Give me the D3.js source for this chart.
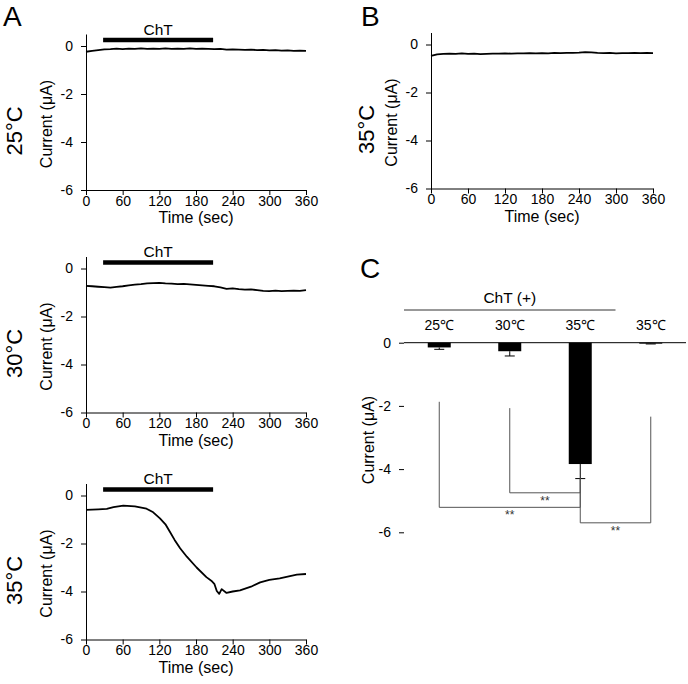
<!DOCTYPE html>
<html lang="en">

<head>
    <meta charset="utf-8">
    <title>ChT current</title>
    <script type="text/javascript" src="https://d3js.org/d3.v7.min.js"></script>
    <style>
        body { margin: 0; background: #fff; }
        svg text { font-family: "Liberation Sans", Arial, sans-serif; fill: #000; }
        .axis path, .axis line { stroke: #000; }
    </style>
</head>

<body>
    <div id="container"></div>
    <script type="text/javascript">
        var w = 688;
        var h = 684;

        // time grid of the recordings (sec)
        var timeSec = [0, 10, 20, 30, 40, 50, 60, 70, 80, 90, 100, 110, 120, 130, 140, 150, 160, 170, 180,
            190, 200, 210, 220, 230, 240, 250, 260, 270, 280, 290, 300, 310, 320, 330, 340, 350, 360];

        // current traces (uA)
        var trace25 = [-0.24, -0.2, -0.17, -0.14, -0.13, -0.11, -0.13, -0.11, -0.12, -0.1, -0.12, -0.11, -0.12,
            -0.1, -0.12, -0.11, -0.12, -0.1, -0.12, -0.11, -0.12, -0.13, -0.12, -0.15, -0.14, -0.15, -0.16,
            -0.15, -0.17, -0.16, -0.18, -0.17, -0.19, -0.18, -0.2, -0.19, -0.2];
        var trace30 = [-0.72, -0.74, -0.76, -0.78, -0.8, -0.77, -0.74, -0.7, -0.67, -0.65, -0.62, -0.61, -0.6,
            -0.62, -0.63, -0.65, -0.64, -0.66, -0.68, -0.7, -0.72, -0.74, -0.79, -0.85, -0.83, -0.86, -0.88,
            -0.87, -0.9, -0.93, -0.94, -0.92, -0.94, -0.93, -0.92, -0.93, -0.9];
        var traceB35 = [-0.47, -0.41, -0.39, -0.38, -0.39, -0.37, -0.39, -0.38, -0.4, -0.39, -0.38, -0.38, -0.37,
            -0.38, -0.37, -0.37, -0.36, -0.37, -0.36, -0.37, -0.35, -0.36, -0.35, -0.35, -0.34, -0.32, -0.33,
            -0.35, -0.36, -0.35, -0.37, -0.36, -0.36, -0.35, -0.36, -0.35, -0.36];

        // 35 C trace has its own sampling around the fast drop
        var time35 = [0, 10, 20, 34, 45, 61, 80, 99, 110, 121, 130, 137, 145, 154, 165, 181, 197, 205, 210,
            214, 218, 222, 230, 240, 252, 270, 285, 300, 317, 330, 345, 360];
        var trace35 = [-0.6, -0.59, -0.58, -0.56, -0.48, -0.42, -0.45, -0.55, -0.7, -0.95, -1.2, -1.5, -1.85,
            -2.2, -2.55, -3.0, -3.4, -3.55, -3.68, -3.98, -4.1, -3.9, -4.06, -4.0, -3.95, -3.8, -3.62, -3.52,
            -3.45, -3.38, -3.3, -3.27];

        var chtWindow = [28, 208];
        var xTicks = [0, 60, 120, 180, 240, 300, 360];
        var yTicks = [0, -2, -4, -6];

        // panel C
        var barCats = ["25℃", "30℃", "35℃", "35℃ "];
        var barMeans = [-0.15, -0.27, -3.84, -0.03];
        var barErr = [0.06, 0.15, 0.46, 0.01];
        // [left cat, right cat, left leg top, base level, right leg top]
        var sigBrackets = [
            [0, 2, -1.87, -5.21, -4.3],
            [1, 2, -2.07, -4.75, -4.3],
            [2, 3, -4.3, -5.7, -2.34]
        ];

        const svg = d3.select("div#container")
            .append("svg")
            .attr("width", w)
            .attr("height", h)
            .style("background-color", "#fff");

        var fmt = d => String(d);

        function tracePanel(x0, y0, width, times, values, tempLabel, labelX, showChT) {
            var x = d3.scaleLinear().domain([0, 360]).range([x0, x0 + width]);
            var y = d3.scaleLinear().domain([-6, 0.5]).range([y0 + 144, y0 - 12]);

            svg.append("g")
                .attr("class", "axis")
                .attr("transform", "translate(0," + (y0 + 144) + ")")
                .call(d3.axisBottom(x).tickValues(xTicks).tickFormat(fmt).tickSize(5).tickPadding(1).tickSizeOuter(0))
                .call(g => g.selectAll("text").style("font-size", "14px"));

            svg.append("g")
                .attr("class", "axis")
                .attr("transform", "translate(" + x0 + ",0)")
                .call(d3.axisLeft(y).tickValues(yTicks).tickFormat(fmt).tickSize(5).tickPadding(8).tickSizeOuter(0))
                .call(g => g.selectAll("text").style("font-size", "14px"));

            svg.append("text")
                .attr("x", x0 + width / 2)
                .attr("y", y0 + 177)
                .attr("text-anchor", "middle")
                .style("font-size", "16px")
                .text("Time (sec)");

            svg.append("text")
                .attr("transform", "translate(" + (x0 - 40) + "," + (y0 + 78) + ") rotate(-90)")
                .attr("text-anchor", "middle")
                .attr("dy", "0.35em")
                .style("font-size", "16px")
                .text("Current (μA)");

            svg.append("text")
                .attr("transform", "translate(" + labelX + "," + (y0 + 85) + ") rotate(-90)")
                .attr("text-anchor", "middle")
                .attr("dy", "0.35em")
                .style("font-size", "22px")
                .text(tempLabel);

            if (showChT) {
                svg.append("line")
                    .attr("x1", x(chtWindow[0]))
                    .attr("x2", x(chtWindow[1]))
                    .attr("y1", y(0.25))
                    .attr("y2", y(0.25))
                    .attr("stroke", "#000")
                    .attr("stroke-width", 4.5);
                svg.append("text")
                    .attr("x", x((chtWindow[0] + chtWindow[1]) / 2))
                    .attr("y", y(0.25) - 5.5)
                    .attr("text-anchor", "middle")
                    .style("font-size", "15.5px")
                    .text("ChT");
            }

            var line = d3.line()
                .x((d, i) => x(times[i]))
                .y(d => y(d));

            svg.append("path")
                .datum(values)
                .attr("d", line)
                .attr("fill", "none")
                .attr("stroke", "#000")
                .attr("stroke-width", 1.8)
                .attr("stroke-linejoin", "round");
        }

        tracePanel(86, 46, 220, timeSec, trace25, "25°C", 14, true);
        tracePanel(86, 268.5, 220, timeSec, trace30, "30°C", 14, true);
        tracePanel(86, 495.5, 220, time35, trace35, "35°C", 14, true);
        tracePanel(431, 44.5, 222, timeSec, traceB35, "35°C", 366, false);

        // panel letters
        svg.append("text").attr("x", 3).attr("y", 26).style("font-size", "28px").text("A");
        svg.append("text").attr("x", 361).attr("y", 26).style("font-size", "28px").text("B");
        svg.append("text").attr("x", 360).attr("y", 278).style("font-size", "28px").text("C");

        // ---- panel C: bar chart ----
        var xc = d3.scaleBand().domain(barCats).range([404, 686]);
        var yc = d3.scaleLinear().domain([-6, 0]).range([532.3, 342.7]);
        var barW = 23;

        svg.append("g")
            .attr("class", "axis")
            .attr("transform", "translate(404,0)")
            .call(d3.axisLeft(yc).tickValues(yTicks).tickFormat(fmt).tickSize(5).tickPadding(8))
            .call(g => g.select(".domain").remove())
            .call(g => g.selectAll("text").style("font-size", "14px"));

        svg.append("text")
            .attr("transform", "translate(368,440) rotate(-90)")
            .attr("text-anchor", "middle")
            .attr("dy", "0.35em")
            .style("font-size", "16px")
            .text("Current (μA)");

        svg.selectAll("rect.bar")
            .data(barMeans)
            .enter()
            .append("rect")
            .attr("class", "bar")
            .attr("x", (d, i) => xc(barCats[i]) + xc.bandwidth() / 2 - barW / 2)
            .attr("y", yc(0))
            .attr("width", barW)
            .attr("height", d => yc(d) - yc(0))
            .attr("fill", "#000");

        // error bars (downward)
        barMeans.forEach(function (m, i) {
            var cx = xc(barCats[i]) + xc.bandwidth() / 2;
            svg.append("line")
                .attr("x1", cx).attr("x2", cx)
                .attr("y1", yc(m)).attr("y2", yc(m - barErr[i]))
                .attr("stroke", "#000").attr("stroke-width", 1);
            svg.append("line")
                .attr("x1", cx - 5).attr("x2", cx + 5)
                .attr("y1", yc(m - barErr[i])).attr("y2", yc(m - barErr[i]))
                .attr("stroke", "#000").attr("stroke-width", 1);
        });

        // zero line
        svg.append("line")
            .attr("x1", 404).attr("x2", 686)
            .attr("y1", yc(0)).attr("y2", yc(0))
            .attr("stroke", "#000").attr("stroke-width", 1);

        // category labels
        svg.selectAll("text.cat")
            .data(barCats)
            .enter()
            .append("text")
            .attr("class", "cat")
            .attr("x", d => xc(d) + xc.bandwidth() / 2)
            .attr("y", 330)
            .attr("text-anchor", "middle")
            .style("font-size", "14px")
            .text(d => d.trim());

        // ChT (+) group label
        svg.append("line")
            .attr("x1", xc(barCats[0])).attr("x2", xc(barCats[2]) + xc.bandwidth())
            .attr("y1", 310).attr("y2", 310)
            .attr("stroke", "#333").attr("stroke-width", 1);
        svg.append("text")
            .attr("x", (xc(barCats[0]) + xc(barCats[2]) + xc.bandwidth()) / 2)
            .attr("y", 303)
            .attr("text-anchor", "middle")
            .style("font-size", "15.5px")
            .text("ChT (+)");

        // significance brackets
        sigBrackets.forEach(function (b) {
            var xa = xc(barCats[b[0]]) + xc.bandwidth() / 2;
            var xb = xc(barCats[b[1]]) + xc.bandwidth() / 2;
            svg.append("path")
                .attr("d", "M" + xa + "," + yc(b[2]) + "V" + yc(b[3]) + "H" + xb + "V" + yc(b[4]))
                .attr("fill", "none")
                .attr("stroke", "#555")
                .attr("stroke-width", 1);
            svg.append("text")
                .attr("x", (xa + xb) / 2)
                .attr("y", yc(b[3]) + 12)
                .attr("text-anchor", "middle")
                .style("font-size", "12px")
                .style("fill", "#333")
                .text("**");
        });
    </script>
</body>

</html>
